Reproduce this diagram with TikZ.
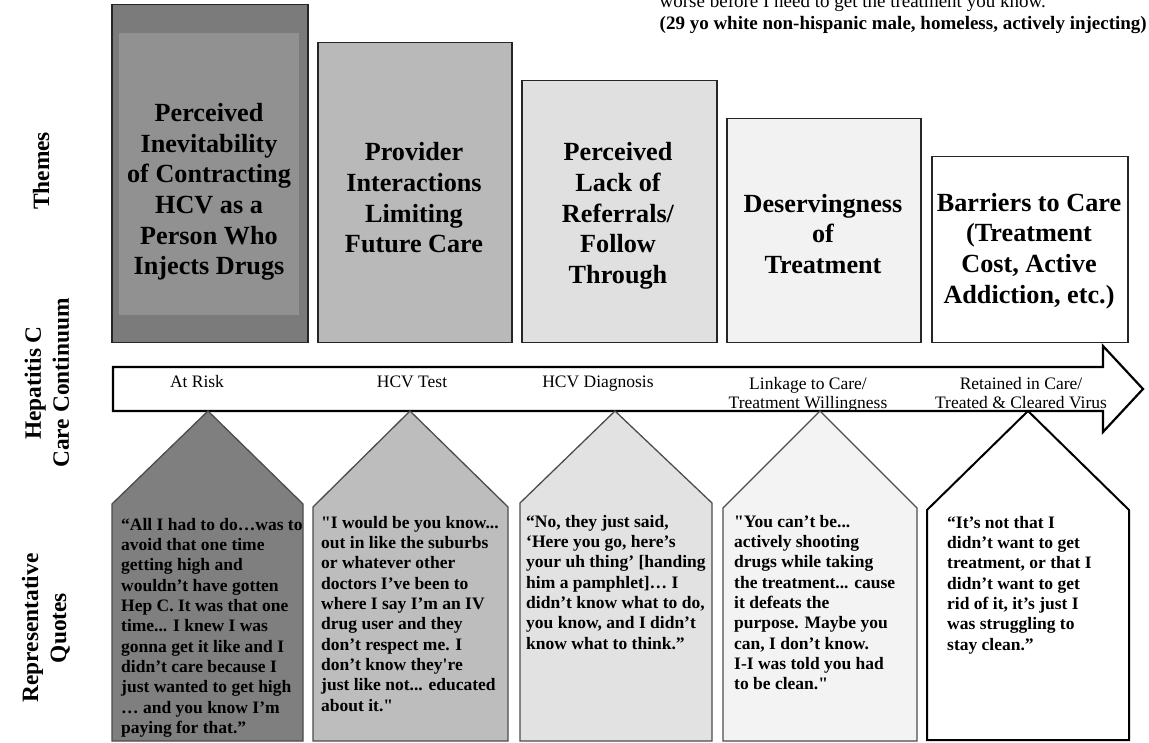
\documentclass[tikz,border=0pt]{standalone}
\usepackage{fontspec}
\setmainfont{Liberation Serif}[Ligatures=TeXOff]
\definecolor{boxA}{HTML}{7B7B7B}
\definecolor{boxAin}{HTML}{919191}
\definecolor{boxB}{HTML}{B9B9B9}
\definecolor{boxC}{HTML}{E0E0E0}
\definecolor{boxD}{HTML}{F2F2F2}
\definecolor{penA}{HTML}{7F7F7F}
\definecolor{penB}{HTML}{BDBDBD}
\definecolor{penC}{HTML}{E2E2E2}
\definecolor{penD}{HTML}{F3F3F3}
\begin{document}
\begin{tikzpicture}[x=1pt,y=-1pt,
  themebox/.style={draw=black!85, line width=1.5pt, anchor=north west, inner sep=0pt},
  themetext/.style={font=\bfseries\fontsize{26.2}{30.7}\selectfont, align=center, inner sep=0pt},
  penta/.style={draw=black!70, line width=1.3pt},
  quotetext/.style={font=\bfseries\fontsize{17.5}{20.3}\selectfont, align=left, inner sep=0pt, anchor=north west},
  steplabel/.style={font=\fontsize{17.5}{19.3}\selectfont, align=center, inner sep=0pt},
  sidelabel/.style={font=\bfseries\fontsize{23.4}{28}\selectfont, align=center, rotate=90, inner sep=0pt},
  toptext/.style={font=\fontsize{19}{21}\selectfont, inner sep=0pt}]

\useasboundingbox (0,0) rectangle (1149,743);
\fill[white] (0,0) rectangle (1149,743);

% top-right quote fragment
\node[toptext, font=\bfseries\fontsize{19}{21}\selectfont, anchor=base east] (cite) at (1147,30) {(29 yo white non-hispanic male, homeless, actively injecting)};
\coordinate (topy) at (0,8);
\node[toptext, anchor=base west] (quote0) at (cite.base west |- topy) {worse before I need to get the treatment you know.”};

% theme boxes
\node[themebox, fill=boxA, minimum width=196pt, minimum height=338pt] (t1) at (111,4) {};
\fill[boxAin] (119,33) rectangle (299,315);
\node[themebox, fill=boxB, minimum width=194pt, minimum height=300pt] (t2) at (317,42) {};
\node[themebox, fill=boxC, minimum width=195pt, minimum height=262pt] (t3) at (521,80) {};
\node[themebox, fill=boxD, minimum width=194pt, minimum height=224pt] (t4) at (726,118) {};
\node[themebox, fill=white, minimum width=196pt, minimum height=186pt] (t5) at (931,156) {};

\node[themetext] (t1txt) at (209,192) {Perceived\\Inevitability\\of Contracting\\HCV as a\\Person Who\\Injects Drugs};
\node[themetext] (t2txt) at (414,198) {Provider\\Interactions\\Limiting\\Future Care};
\node[themetext] (t3txt) at (618,216) {Perceived\\Lack of\\Referrals/\\Follow\\Through};
\node[themetext] (t4txt) at (823,234) {Deservingness\\of\\Treatment};
\node[themetext] (t5txt) at (1029,251) {Barriers to Care\\(Treatment\\Cost, Active\\Addiction, etc.)};

% continuum arrow
\draw[line width=2.2pt, fill=white, line join=miter]
  (113,367) coordinate (arrL) -- (1103,367) -- (1103,346) -- (1143,389) coordinate (arrTip)
  -- (1103,432) -- (1103,411) -- (113,411) -- cycle;

\node[steplabel, anchor=north] (s1) at (197,375.5) {At Risk};
\node[steplabel, anchor=north] (s2) at (412,375.5) {HCV Test};
\node[steplabel, anchor=north] (s3) at (598,375.5) {HCV Diagnosis};
\node[steplabel, anchor=north] (s4) at (808,377) {Linkage to Care/\\Treatment Willingness};
\node[steplabel, anchor=north] (s5) at (1021,377) {Retained in Care/\\Treated \& Cleared Virus};

% quote pentagons
\draw[penta, fill=penA] (208,411) -- (303,504) -- (303,741) -- (112,741) -- (112,504) -- cycle;
\draw[penta, fill=penB] (410,411) -- (508,507) -- (508,741) -- (313,741) -- (313,507) -- cycle;
\draw[penta, fill=penC] (615,411) -- (712,503) -- (712,741) -- (520,741) -- (520,503) -- cycle;
\draw[penta, fill=penD] (820,411) -- (917,508) -- (917,741) -- (723,741) -- (723,508) -- cycle;
\draw[penta, draw=black, line width=2pt, fill=white] (1028,411) -- (1129,510) -- (1129,740) -- (927,740) -- (927,510) -- cycle;

\node[quotetext] (q1) at (121,518) {“All I had to do…was to\\avoid that one time\\getting high and\\wouldn’t have gotten\\Hep C. It was that one\\time... I knew I was\\gonna get it like and I\\didn’t care because I\\just wanted to get high\\… and you know I’m\\paying for that.”};
\node[quotetext] (q2) at (321,516) {"I would be you know...\\out in like the suburbs\\or whatever other\\doctors I’ve been to\\where I say I’m an IV\\drug user and they\\don’t respect me. I\\don’t know they're\\just like not... educated\\about it."};
\node[quotetext] (q3) at (526,515) {“No, they just said,\\‘Here you go, here’s\\your uh thing’ [handing\\him a pamphlet]… I\\didn’t know what to do,\\you know, and I didn’t\\know what to think.”};
\node[quotetext] (q4) at (734,515) {"You can’t be...\\actively shooting\\drugs while taking\\the treatment... cause\\it defeats the\\purpose. Maybe you\\can, I don’t know.\\I-I was told you had\\to be clean."};
\node[quotetext] (q5) at (947,516) {“It’s not that I\\didn’t want to get\\treatment, or that I\\didn’t want to get\\rid of it, it’s just I\\was struggling to\\stay clean.”};

% side labels
\node[sidelabel] (lblThemes) at (41,171) {Themes};
\node[sidelabel] (lblHCV) at (47,383) {Hepatitis C\\Care Continuum};
\node[sidelabel] (lblQuotes) at (46,628) {Representative\\Quotes};
\end{tikzpicture}
\end{document}
